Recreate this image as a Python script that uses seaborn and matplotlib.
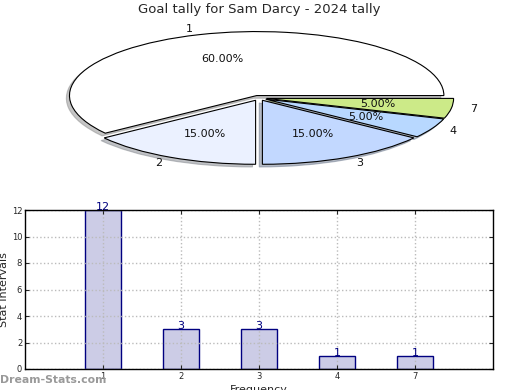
import matplotlib
matplotlib.use("Agg")
import matplotlib.pyplot as plt
import seaborn as sns
import pandas as pd

sns.set_style("white")
plt.rcParams['font.family'] = ['DejaVu Sans']

title = "Goal tally for Sam Darcy - 2024 tally"
categories = ["1", "2", "3", "4", "7"]
counts = [12, 3, 3, 1, 1]
pie_colors = ["#FFFFFF", "#EBF1FF", "#C2D8FF", "#B8D8FF", "#CCEA88"]

fig = plt.figure(figsize=(5.2, 3.9), dpi=100)

# Pie chart
axp = fig.add_axes([25/520, 1-178/390, 468/520, 160/390])
wedges, texts, autotexts = axp.pie(
    counts, labels=categories, colors=pie_colors, explode=[0.04]*5,
    autopct='%1.2f%%', startangle=0, counterclock=True,
    shadow={'ox': -0.012, 'oy': -0.03, 'shade': 0.45},
    wedgeprops=dict(edgecolor='black', linewidth=0.8),
    textprops=dict(fontsize=8, color='#111111'))
axp.set_aspect('auto')
axp.set_xlim(-1.25, 1.25)
axp.set_ylim(-1.25, 1.25)
axp.axis('off')
fig.text(259/520, 1-10/390, title, ha='center', va='center', fontsize=9.5)

# Bar chart
axb = fig.add_axes([25/520, 1-369/390, 468/520, 159/390])
df = pd.DataFrame({"Frequency": categories, "Stat Intervals": counts})
sns.barplot(data=df, x="Frequency", y="Stat Intervals", ax=axb,
            color="#CCCCE6", edgecolor="#000080", linewidth=1.0,
            width=0.46, saturation=1)
for i, v in enumerate(counts):
    axb.text(i, v - 0.15, str(v), ha='center', va='bottom', fontsize=8,
             color='#000080')
axb.set_xlim(-1, 5)
axb.set_ylim(0, 12)
axb.set_yticks([0, 2, 4, 6, 8, 10, 12])
axb.grid(True, linestyle=':', color='#BBBBBB', linewidth=1.0)
axb.set_axisbelow(False)
axb.tick_params(axis='both', labelsize=6, direction='in', length=3,
                top=True, right=True, bottom=True, left=True, pad=2)
for s in axb.spines.values():
    s.set_visible(True)
    s.set_color('black')
    s.set_linewidth(1.0)
    s.set_zorder(3)
axb.set_xlabel("Frequency", fontsize=8, labelpad=3)
axb.set_ylabel("Stat Intervals", fontsize=8, labelpad=2)

fig.text(0.0, 1-380/390, "Dream-Stats.com", ha='left', va='center',
         fontsize=7.8, color='#999999', fontweight='bold')

fig.savefig("out.png", dpi=100)
